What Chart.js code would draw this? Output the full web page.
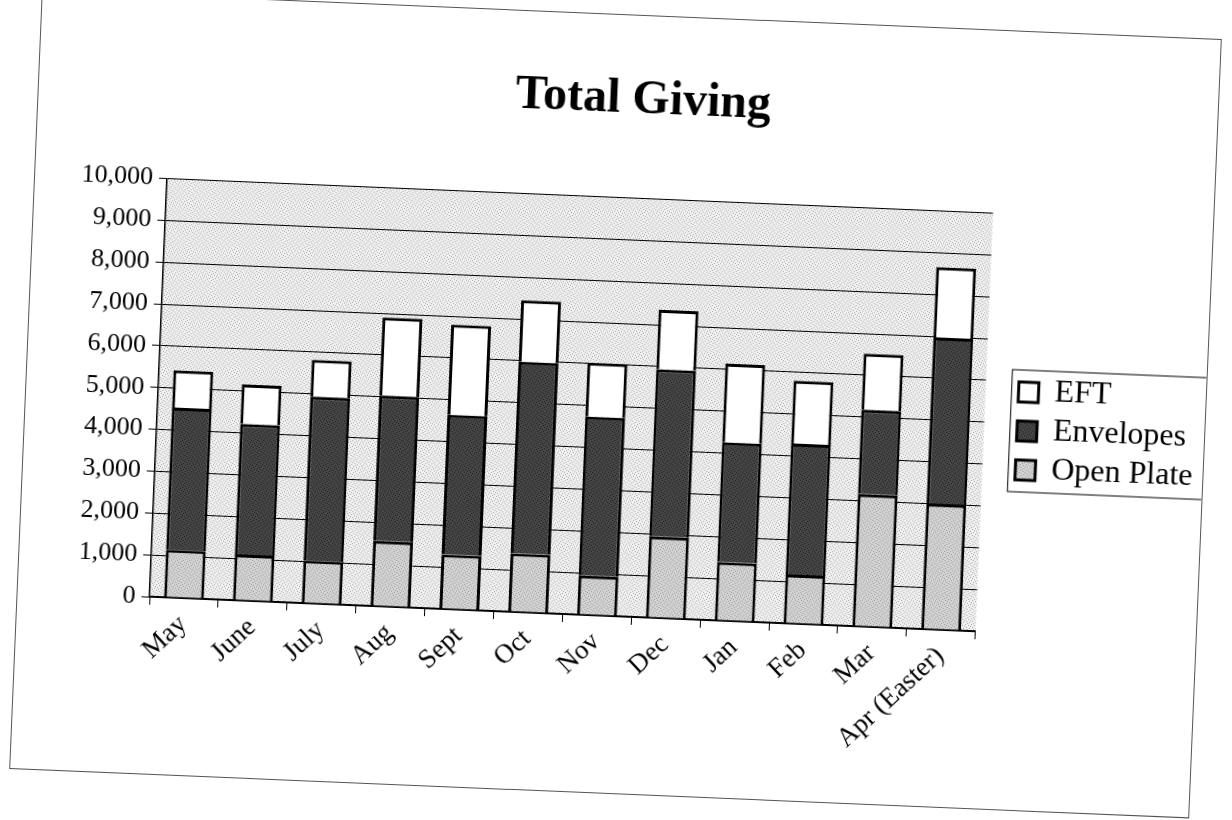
<!DOCTYPE html>
<html lang="en">
<head>
<meta charset="UTF-8" />
<title>Total Giving</title>
<script src="https://cdn.jsdelivr.net/npm/chart.js@4.4.0/dist/chart.umd.min.js"></script>
<style>
  body { margin: 0; background: #fff; }
  #frame {
    position: absolute; left: 25px; top: 14px;
    width: 1181px; height: 780px;
    box-sizing: border-box; border: 1px solid #555;
    transform: rotate(2.4deg); transform-origin: 50% 50%;
  }
  #frame canvas { display: block; }
</style>
</head>
<body>
<div id="frame"><canvas id="chart" width="1179" height="778"></canvas></div>
<script>
const months = ['May', 'June', 'July', 'Aug', 'Sept', 'Oct', 'Nov', 'Dec', 'Jan', 'Feb', 'Mar', 'Apr (Easter)'];
const openPlate = [1140, 1100, 1020, 1560, 1300, 1400, 940, 1940, 1400, 1170, 3160, 3000];
const envelopes = [3400, 3120, 3920, 3480, 3340, 4580, 3800, 4000, 2860, 3130, 2020, 3980];
const eft = [890, 940, 880, 1860, 2160, 1470, 1290, 1420, 1880, 1500, 1340, 1680];

Chart.defaults.font.family = "'Liberation Serif', 'DejaVu Serif', serif";
Chart.defaults.color = '#000';

const ctx = document.getElementById('chart').getContext('2d');

// small stipple tiles, like the scanned fills
function stipple(base, dot, pts) {
    const c = document.createElement('canvas');
    c.width = 6; c.height = 6;
    const g = c.getContext('2d');
    g.fillStyle = base;
    g.fillRect(0, 0, 6, 6);
    g.fillStyle = dot;
    pts.forEach(p => g.fillRect(p[0], p[1], 1, 1));
    return ctx.createPattern(c, 'repeat');
}
const dots = [[0, 0], [3, 1], [1, 3], [4, 4], [2, 5], [5, 2]];
const plotFill = stipple('#f1f1f1', '#a8a8a8', dots);
const darkFill = stipple('#474747', '#1a1a1a', dots);
const lightFill = stipple('#d4d4d4', '#969696', dots);

const plotBg = {
    id: 'plotBg',
    beforeDraw(chart) {
        const a = chart.chartArea;
        const c = chart.ctx;
        c.save();
        c.fillStyle = plotFill;
        c.fillRect(a.left, a.top, a.right - a.left, a.bottom - a.top);
        c.restore();
    }
};

// nudge legend and title a little, as in the original
const nudge = {
    id: 'nudge',
    afterUpdate(chart) {
        const lg = chart.legend;
        lg.left += 26; lg.right += 26; lg.top += 10; lg.bottom += 10;
        lg.legendHitBoxes.forEach(b => { b.left += 26; b.top += 10; });
        const t = chart.titleBlock;
        t.left += 13; t.right += 13;
    }
};

const legendBox = {
    id: 'legendBox',
    afterDraw(chart) {
        const boxes = chart.legend.legendHitBoxes;
        if (!boxes || !boxes.length) return;
        let x0 = Infinity, y0 = Infinity, x1 = -Infinity, y1 = -Infinity;
        boxes.forEach(b => {
            x0 = Math.min(x0, b.left); y0 = Math.min(y0, b.top);
            x1 = Math.max(x1, b.left + b.width); y1 = Math.max(y1, b.top + b.height);
        });
        const c = chart.ctx;
        c.save();
        c.strokeStyle = '#000';
        c.lineWidth = 1;
        c.strokeRect(x0 - 7, y0 - 6, x1 - x0 + 24, y1 - y0 + 12);
        c.restore();
    }
};

new Chart(ctx, {
    type: 'bar',
    data: {
        labels: months,
        datasets: [
            { label: 'Open Plate', data: openPlate, backgroundColor: lightFill, borderColor: '#000', borderWidth: 3 },
            { label: 'Envelopes', data: envelopes, backgroundColor: darkFill, borderColor: '#000', borderWidth: 3 },
            { label: 'EFT', data: eft, backgroundColor: '#fff', borderColor: '#000', borderWidth: 3 }
        ]
    },
    options: {
        responsive: false,
        animation: false,
        devicePixelRatio: 1,
        datasets: { bar: { categoryPercentage: 1, barPercentage: 0.58 } },
        layout: { padding: { left: 30, right: 26, top: 0, bottom: 0 } },
        plugins: {
            title: {
                display: true,
                text: 'Total Giving',
                font: { size: 48, weight: 'bold' },
                color: '#000',
                padding: { top: 56, bottom: 69 }
            },
            legend: {
                position: 'right',
                reverse: true,
                labels: { boxWidth: 20, boxHeight: 20, padding: 7, font: { size: 32 }, color: '#000' }
            },
            tooltip: { enabled: false }
        },
        scales: {
            x: {
                stacked: true,
                ticks: { autoSkip: false, maxRotation: 45, minRotation: 45, font: { size: 27 }, color: '#000' },
                grid: { drawOnChartArea: false, tickLength: 8, color: '#000', offset: true },
                border: { color: '#000', width: 1.5 },
                afterFit: s => { s.height = 177; }
            },
            y: {
                stacked: true,
                min: 0,
                max: 10000,
                ticks: { stepSize: 1000, font: { size: 26 }, color: '#000', padding: 6,
                         callback: v => v.toLocaleString('en-US') },
                grid: { color: '#000', lineWidth: 1, tickLength: 8 },
                border: { color: '#000', width: 1.5 },
                afterFit: s => { s.width = 102; }
            }
        }
    },
    plugins: [plotBg, nudge, legendBox]
});
</script>
</body>
</html>
